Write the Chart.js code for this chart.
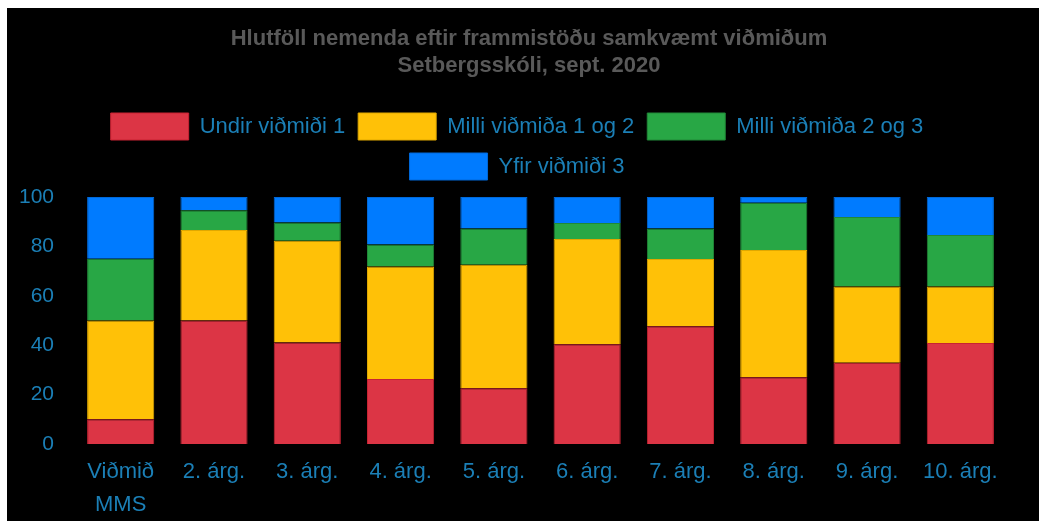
<!DOCTYPE html>
<html>
<head>
<meta charset="utf-8">
<script src="https://cdn.jsdelivr.net/npm/chart.js@4/dist/chart.umd.min.js"></script>
<style>
  html, body { margin: 0; padding: 0; background: #fff; }
  .chart-box { position: absolute; left: 7px; top: 8px; width: 1032px; height: 513px; background: #000; }
</style>
</head>
<body>
<div class="chart-box"><canvas class="chart-criteria"></canvas></div>
<script>
const categories = [['Viðmið', 'MMS'], '2. árg.', '3. árg.', '4. árg.', '5. árg.', '6. árg.', '7. árg.', '8. árg.', '9. árg.', '10. árg.'];
const underOne = [10, 50, 41.1, 26.3, 22.6, 40.4, 47.7, 27.0, 32.9, 40.9];
const oneToTwo = [40, 36.6, 41.2, 45.6, 50.0, 42.6, 27.2, 51.5, 30.9, 22.9];
const twoToThree = [25, 8.0, 7.4, 8.9, 14.6, 6.5, 12.3, 19.2, 28.1, 20.8];
const overThree = [25, 5.4, 10.3, 19.2, 12.8, 10.5, 12.8, 2.3, 8.1, 15.4];
const titleLines = ['Hlutföll nemenda eftir frammistöðu samkvæmt viðmiðum', 'Setbergsskóli, sept. 2020'];

const textColor = '#1b7fb6';
const fontFamily = 'Arial, "Liberation Sans"';

function makeSet(label, data, color, border) {
  return {
    label: label,
    data: data,
    backgroundColor: color,
    borderColor: border,
    borderWidth: 1
  };
}

// extra room under the legend, and nudge title / legend to the right
const headerTweak = {
  id: 'headerTweak',
  beforeInit(chart) {
    const fit = chart.legend.fit;
    chart.legend.fit = function () {
      fit.call(this);
      this.height += 7;
    };
  },
  afterLayout(chart) {
    chart.titleBlock.left += 26;
    chart.titleBlock.right += 26;
    chart.legend.left += 14;
    chart.legend.right += 14;
  }
};

const chartBox = document.querySelector('.chart-criteria');
const chartInstance = new Chart(chartBox, {
  type: 'bar',
  data: {
    labels: categories,
    datasets: [
      makeSet('Undir viðmiði 1', underOne, '#dc3545', '#c82333'),
      makeSet('Milli viðmiða 1 og 2', oneToTwo, '#ffc107', '#e0a800'),
      makeSet('Milli viðmiða 2 og 3', twoToThree, '#28a745', '#218838'),
      makeSet('Yfir viðmiði 3', overThree, '#007bff', '#0069d9')
    ]
  },
  plugins: [headerTweak],
  options: {
    responsive: true,
    maintainAspectRatio: false,
    animation: false,
    layout: { padding: { left: -8, right: 32, top: 0, bottom: -11 } },
    plugins: {
      title: {
        display: true,
        text: titleLines,
        color: '#595959',
        font: { family: fontFamily, size: 22, weight: 'bold', lineHeight: 1.25 },
        padding: { top: 17, bottom: 20 }
      },
      legend: {
        labels: {
          color: textColor,
          boxWidth: 78,
          boxHeight: 27,
          padding: 13,
          font: { family: fontFamily, size: 22 }
        }
      },
      tooltip: { enabled: false }
    },
    scales: {
      x: {
        stacked: true,
        grid: { display: false, drawTicks: false },
        border: { display: false },
        ticks: {
          color: textColor,
          padding: 11,
          maxRotation: 0,
          font: { family: fontFamily, size: 22, lineHeight: 1.5 }
        }
      },
      y: {
        stacked: true,
        min: 0,
        max: 100,
        grid: { display: false, drawTicks: false },
        border: { display: false },
        ticks: {
          color: textColor,
          stepSize: 20,
          padding: 20,
          font: { family: fontFamily, size: 21 }
        }
      }
    }
  }
});
</script>
</body>
</html>
